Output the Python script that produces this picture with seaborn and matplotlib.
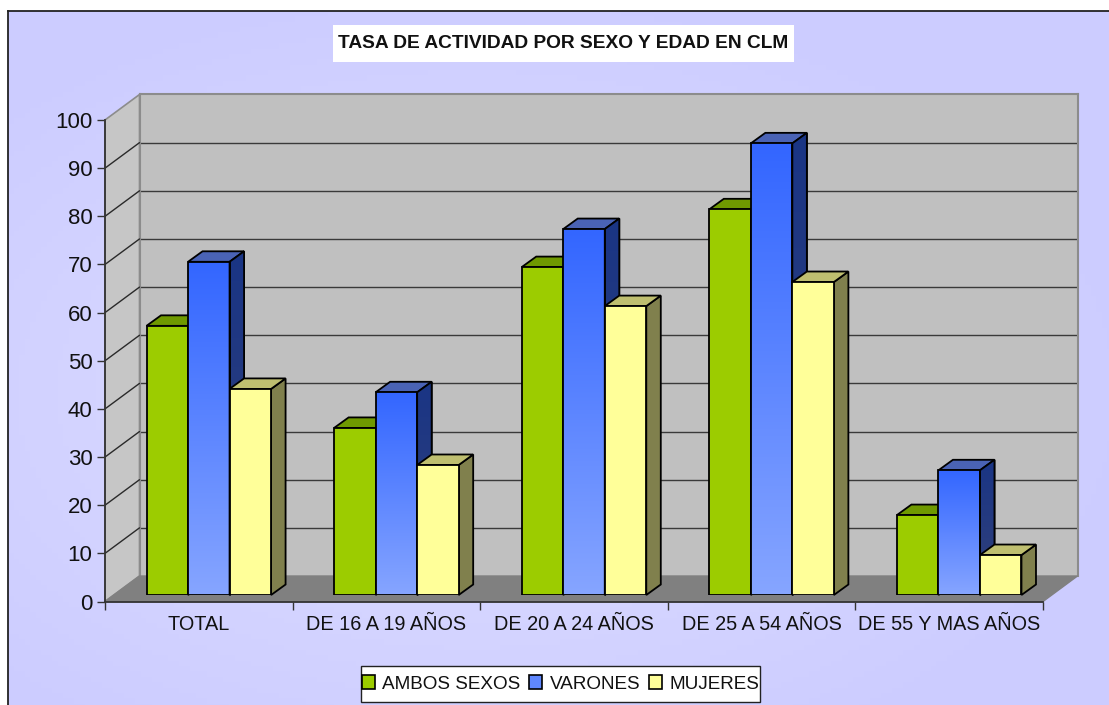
# -*- coding: utf-8 -*-
import numpy as np
import pandas as pd
import matplotlib
matplotlib.use('Agg')
import matplotlib.pyplot as plt
from matplotlib.colors import LinearSegmentedColormap
from matplotlib.patches import Patch, Polygon
import seaborn as sns

# data
grupos = ['TOTAL', 'DE 16 A 19 AÑOS', 'DE 20 A 24 AÑOS', 'DE 25 A 54 AÑOS', 'DE 55 Y MAS AÑOS']
ambos = [55.9, 34.7, 68.1, 80.1, 16.6]
varones = [69.2, 42.1, 76.0, 93.8, 25.9]
mujeres = [42.8, 27.0, 60.0, 65.0, 8.3]
series = ['AMBOS SEXOS', 'VARONES', 'MUJERES']
y_ticks = [0, 10, 20, 30, 40, 50, 60, 70, 80, 90, 100]

# colours per series
frente = ['#9ccc00', '#5f87ff', '#ffff99']
lateral = ['#5f7a00', '#1c3585', '#80804d']
techo = ['#6f9900', '#4a63b5', '#bfbf70']

W, H = 1109, 705
sns.set_theme(style='white')
plt.rcParams['font.family'] = ['Liberation Sans', 'DejaVu Sans']
plt.rcParams['text.color'] = '#111111'

df = pd.DataFrame({'grupo': grupos, series[0]: ambos, series[1]: varones, series[2]: mujeres})
df = df.melt(id_vars='grupo', var_name='sexo', value_name='tasa')


def rect(x0, y_top, x1, y_bot):
    # pixel box -> figure fraction
    return [x0 / W, 1 - y_bot / H, (x1 - x0) / W, (y_bot - y_top) / H]


fig = plt.figure(figsize=(W / 100, H / 100), dpi=100, facecolor='white')

# chart area background
bg = fig.add_axes(rect(8, 11, W + 4, H + 4), zorder=0)
xx, yy = np.meshgrid(np.linspace(0, 1, 200), np.linspace(0, 1, 130))
r = np.clip(np.sqrt(((xx - 0.42) / 0.62) ** 2 + ((yy - 0.55) / 0.6) ** 2), 0, 1)
cm_bg = LinearSegmentedColormap.from_list('bg', ['#dedeff', '#ccccff'])
bg.imshow(r, cmap=cm_bg, aspect='auto', vmin=0, vmax=1)
bg.set_xticks([])
bg.set_yticks([])
for s in bg.spines.values():
    s.set_color('#222222')
    s.set_linewidth(1.3)

# front plane, back wall and bar plane share the same scales
x0_px, x1_px, y0_px, y100_px = 105, 1043, 601.5, 120
prof_x, prof_y = 34.5, 25.5     # wall depth
bar_x, bar_y = 10, 6.5          # bars sit inside the depth
lado_x, lado_y = 14.5, 10.5     # bar depth

ax_back = fig.add_axes(rect(x0_px + prof_x, y100_px - prof_y, x1_px + prof_x, y0_px - prof_y), zorder=1)
ax = fig.add_axes(rect(x0_px, y100_px, x1_px, y0_px), zorder=2)
ax_bar = fig.add_axes(rect(x0_px + bar_x, y100_px - bar_y, x1_px + bar_x, y0_px - bar_y), zorder=3)

sns.barplot(data=df, x='grupo', y='tasa', hue='sexo', hue_order=series, order=grupos,
            palette=frente, width=0.664, gap=0, edgecolor='black', linewidth=1.3,
            saturation=1, legend=False, ax=ax_bar)

for a in (ax_back, ax, ax_bar):
    a.set_xlim(-0.5, 4.5)
    a.set_ylim(0, 100)

u_x = (x1_px - x0_px) / 5
u_y = (y0_px - y100_px) / 100

# back wall
ax_back.set_facecolor('#c0c0c0')
ax_back.set_xticks([])
ax_back.set_yticks(y_ticks[1:-1])
ax_back.tick_params(left=False, labelleft=False)
ax_back.grid(axis='y', color='#3a3a3a', linewidth=1.0)
for name, s in ax_back.spines.items():
    s.set_color('#8c8c8c')
    s.set_linewidth(1.5)
ax_back.spines['bottom'].set_visible(False)

# front plane: side wall, floor, axes
ax.patch.set_alpha(0)
dx, dy = prof_x / u_x, prof_y / u_y
ax.add_patch(Polygon([(-0.5, 0), (-0.5, 100), (-0.5 + dx, 100 + dy), (-0.5 + dx, dy)],
                     closed=True, fc='#c6c6c6', ec='#8c8c8c', lw=1.2, clip_on=False, zorder=1))
ax.add_patch(Polygon([(-0.5, 0), (4.5, 0), (4.5 + dx, dy), (-0.5 + dx, dy)],
                     closed=True, fc='#808080', ec='#808080', lw=1, clip_on=False, zorder=1))
for v in y_ticks[1:-1]:
    ax.plot([-0.5, -0.5 + dx], [v, v + dy], color='#2a2a2a', lw=1, clip_on=False, zorder=2)

ax.set_yticks(y_ticks)
ax.set_xticks(np.arange(-0.5, 5, 1))
ax.set_xticklabels([])
ax.set_xticks(np.arange(5), labels=grupos, minor=True)
ax.tick_params(axis='y', which='major', left=True, length=6, width=1, color='#333333',
               pad=3, labelsize=16, labelcolor='#111111')
ax.tick_params(axis='x', which='major', bottom=True, length=5.5, width=1, color='#333333')
ax.tick_params(axis='x', which='minor', bottom=False, length=0, pad=10, labelsize=14.3, labelcolor='#111111')
for name, s in ax.spines.items():
    s.set_visible(name in ('left', 'bottom'))
    s.set_color('#333333')
    s.set_linewidth(1.3)

# bars: gradient fronts and depth faces
ax_bar.patch.set_alpha(0)
ax_bar.axis('off')
cm_blue = LinearSegmentedColormap.from_list('blue', ['#3366ff', '#86a5ff'])
cm_blue_side = LinearSegmentedColormap.from_list('blue_side', ['#1a3585', '#32417a'])
grad = np.linspace(0, 1, 128).reshape(-1, 1)
ddx, ddy = lado_x / u_x, lado_y / u_y

for i, cont in enumerate(ax_bar.containers):
    z = 3 + i
    for p in cont.patches:
        xa, w, h = p.get_x(), p.get_width(), p.get_height()
        xb = xa + w
        side = Polygon([(xb, 0), (xb + ddx, ddy), (xb + ddx, h + ddy), (xb, h)], closed=True,
                       fc=lateral[i], ec='black', lw=1.3, clip_on=False, zorder=z)
        top = Polygon([(xa, h), (xa + ddx, h + ddy), (xb + ddx, h + ddy), (xb, h)], closed=True,
                      fc=techo[i], ec='black', lw=1.3, clip_on=False, zorder=z)
        ax_bar.add_patch(side)
        ax_bar.add_patch(top)
        p.set_zorder(z + 0.2)
        if i == 1:
            # blue series fades downwards
            im = ax_bar.imshow(grad, cmap=cm_blue, aspect='auto', extent=(xa, xb, 0, h),
                               zorder=z + 0.1, origin='upper')
            im.set_clip_path(p)
            im2 = ax_bar.imshow(grad, cmap=cm_blue_side, aspect='auto',
                                extent=(xb, xb + ddx, 0, h + ddy), zorder=z + 0.1, origin='upper')
            im2.set_clip_path(side)
            im2.set_clip_on(True)
            p.set_facecolor('none')
            side2 = Polygon(side.get_xy(), closed=True, fc='none', ec='black', lw=1.3,
                            clip_on=False, zorder=z + 0.15)
            ax_bar.add_patch(side2)
ax_bar.set_xlim(-0.5, 4.5)
ax_bar.set_ylim(0, 100)

# title box
fig.text(563.5 / W, 1 - 43.5 / H, 'TASA DE ACTIVIDAD POR SEXO Y EDAD EN CLM', ha='center', va='center',
         fontsize=13.8, fontweight='bold', color='#111111', zorder=6)
fig.patches.append(plt.Rectangle((333 / W, 1 - 62 / H), 461 / W, 37 / H, transform=fig.transFigure,
                                 fc='white', ec='none', zorder=5, figure=fig))

# legend box, drawn apart so its padding can differ per side
fig.patches.append(plt.Rectangle((361.5 / W, 1 - 703 / H), 399.5 / W, 36 / H, transform=fig.transFigure,
                                 fc='#888888', ec='none', zorder=5, figure=fig))
fig.patches.append(plt.Rectangle((361 / W, 1 - 702 / H), 399 / W, 36 / H, transform=fig.transFigure,
                                 fc='white', ec='#222222', lw=1, zorder=5, figure=fig))
handles = [Patch(fc=c, ec='black', lw=1.2) for c in frente]
leg = fig.legend(handles, series, ncol=3, loc='center', bbox_to_anchor=(560.5 / W, 1 - 684 / H),
                 frameon=False, fontsize=13.6, handlelength=0.7, handleheight=0.7,
                 handletextpad=0.37, columnspacing=0.48, borderpad=0, borderaxespad=0)
leg.set_zorder(6)

fig.savefig('out.png', dpi=100)
